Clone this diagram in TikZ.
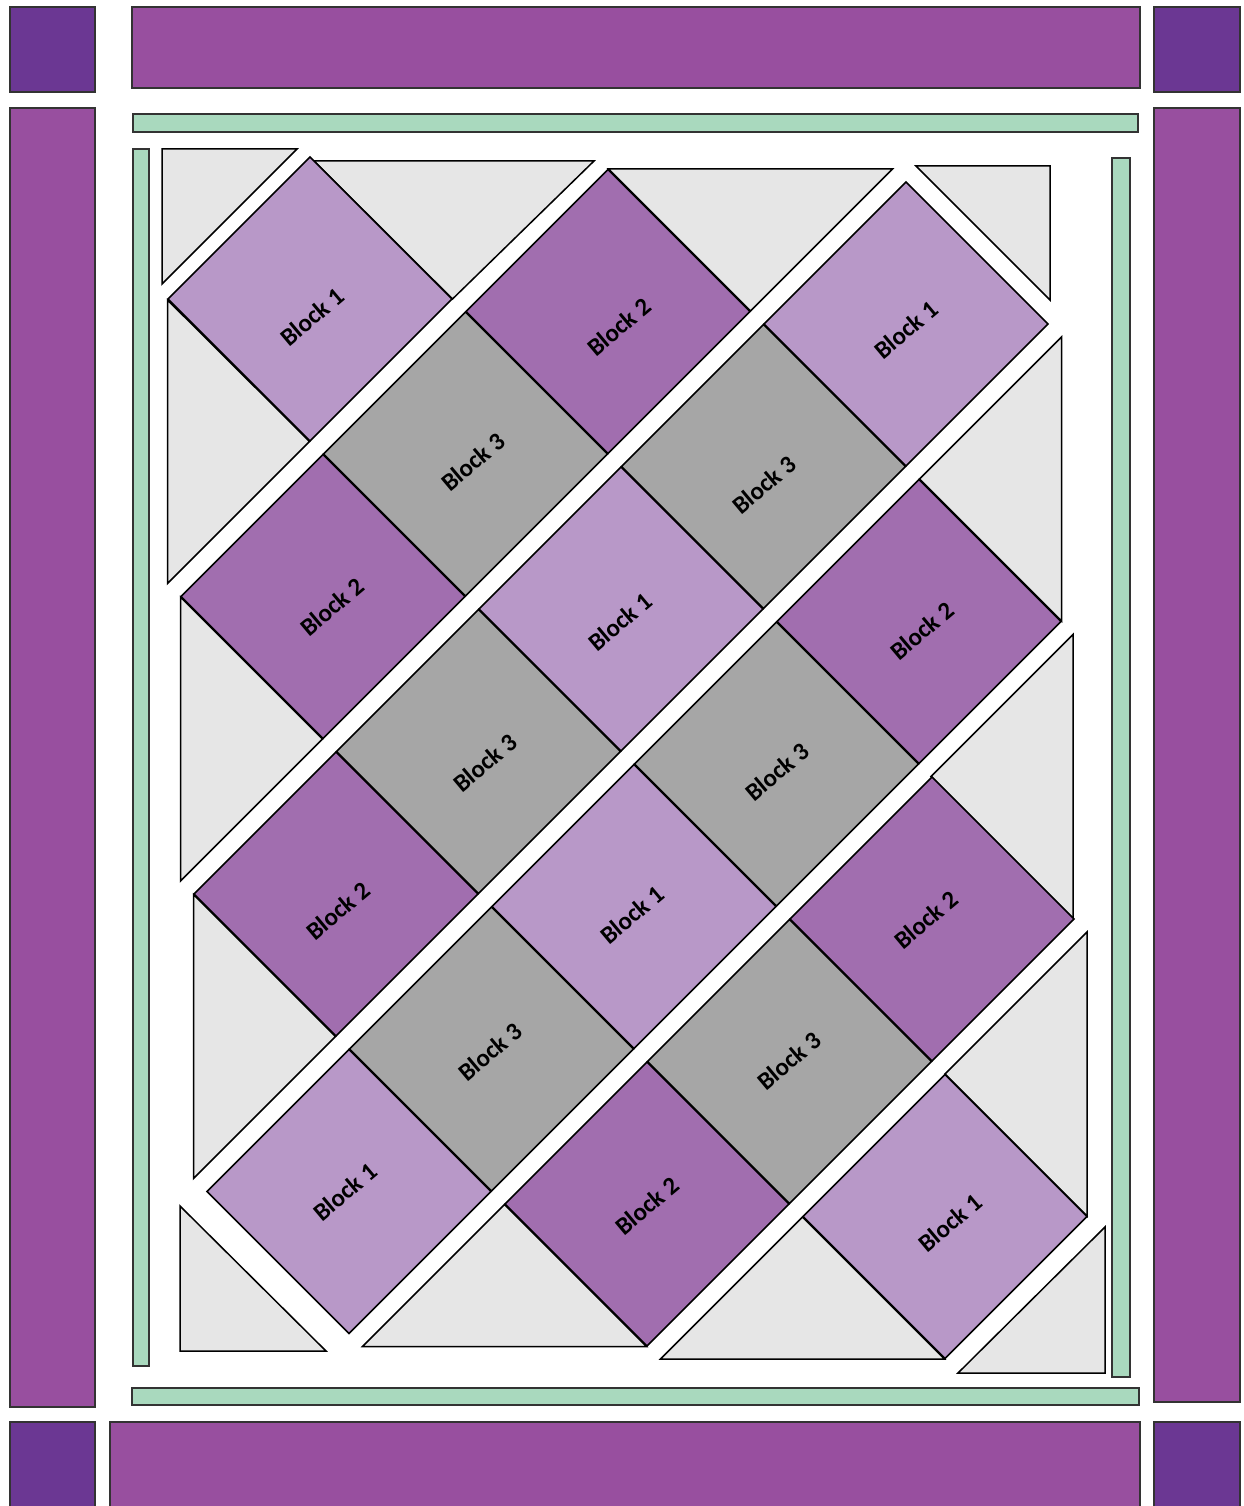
\documentclass[tikz,border=0pt]{standalone}
\usepackage{fontspec}
\setmainfont{Carlito}
\definecolor{borderpurple}{HTML}{984F9F}
\definecolor{cornerpurple}{HTML}{6B3793}
\definecolor{blockone}{HTML}{B898C8}
\definecolor{blocktwo}{HTML}{A16EAF}
\definecolor{blockthree}{HTML}{A6A6A6}
\definecolor{setting}{HTML}{E6E6E6}
\definecolor{sashgreen}{HTML}{A9D9BE}
% #1 name, #2 #3 block centre, #4 colour, #5 number, #6 #7 label centre
\newcommand\qblk[7]{%
  \filldraw[blockline,fill=#4] (#2,#3) ++(0,-142) -- ++(142,142) -- ++(-142,142) -- ++(-142,-142) -- cycle;
  \node[lbl] (#1) at (#6,#7) {Block #5};}
\begin{document}
\begin{tikzpicture}[x=1pt,y=-1pt,
  strip/.style={draw=black!80,line width=1.1pt},
  border/.style={strip,fill=borderpurple},
  cornersq/.style={strip,fill=cornerpurple},
  sash/.style={strip,fill=sashgreen},
  blockline/.style={draw=black,line width=1.5pt,line join=miter},
  tri/.style={draw=black,line width=1.5pt,fill=setting,line join=miter},
  lbl/.style={rotate=40,font=\fontsize{25}{25}\selectfont\bfseries,text=black,inner sep=0pt}]
\clip (0,0) rectangle (1243,1506);
\fill[white] (0,0) rectangle (1243,1506);
% outer border
\filldraw[cornersq] (10,7) rectangle (95,92);
\filldraw[border] (132,7) rectangle (1140,88);
\filldraw[cornersq] (1154,7) rectangle (1240,92);
\filldraw[border] (10,108) rectangle (95,1407);
\filldraw[border] (1154,108) rectangle (1240,1402);
\filldraw[cornersq] (10,1422) rectangle (95,1520);
\filldraw[border] (110,1422) rectangle (1140,1520);
\filldraw[cornersq] (1154,1422) rectangle (1240,1520);
% sashing
\filldraw[sash] (133,114) rectangle (1138,132);
\filldraw[sash] (133,149) rectangle (149,1366);
\filldraw[sash] (1112,158) rectangle (1130,1377);
\filldraw[sash] (132,1388) rectangle (1139,1405);
% setting and corner triangles
\filldraw[tri] (162,149) -- (297,149) -- (162,284) -- cycle;
\filldraw[tri] (167.5,300) -- (309.5,441.5) -- (167.5,583.5) -- cycle;
\filldraw[tri] (314,161) -- (594,161) -- (452.5,299) -- cycle;
\filldraw[tri] (180.5,597) -- (322.5,739) -- (180.5,881) -- cycle;
\filldraw[tri] (608.5,169) -- (892.5,169) -- (750.5,311) -- cycle;
\filldraw[tri] (193.5,894.5) -- (335.5,1036.5) -- (193.5,1178.5) -- cycle;
\filldraw[tri] (916,166) -- (1050,166) -- (1050,300) -- cycle;
\filldraw[tri] (180,1206) -- (326,1351) -- (180,1351) -- cycle;
\filldraw[tri] (1061.5,337) -- (1061.5,621) -- (919.5,479) -- cycle;
\filldraw[tri] (1073,634.5) -- (1073,918.5) -- (931,776.5) -- cycle;
\filldraw[tri] (1087,932) -- (1087,1216) -- (945,1074) -- cycle;
\filldraw[tri] (362.5,1346.5) -- (504.5,1204.5) -- (646.5,1346.5) -- cycle;
\filldraw[tri] (660.5,1359) -- (802.5,1217) -- (944.5,1359) -- cycle;
\filldraw[tri] (958,1373) -- (1105,1373) -- (1105,1227) -- cycle;
% blocks
\qblk{ba}{310}{299}{blockone}{1}{312}{317}
\qblk{bb}{323}{596.5}{blocktwo}{2}{332}{607}
\qblk{bc}{465.5}{454}{blockthree}{3}{473}{462}
\qblk{bd}{608}{311.5}{blocktwo}{2}{619}{327}
\qblk{be}{336}{894}{blocktwo}{2}{338}{911}
\qblk{bf}{478.5}{751.5}{blockthree}{3}{485}{763}
\qblk{bg}{621}{609}{blockone}{1}{620}{622}
\qblk{bh}{763.5}{466.5}{blockthree}{3}{764}{485}
\qblk{bi}{906}{324}{blockone}{1}{906}{330}
\qblk{bj}{349}{1191.5}{blockone}{1}{345}{1192}
\qblk{bk}{491.5}{1049}{blockthree}{3}{490}{1052}
\qblk{bl}{634}{906.5}{blockone}{1}{632}{915}
\qblk{bm}{776.5}{764}{blockthree}{3}{777}{772}
\qblk{bn}{919}{621.5}{blocktwo}{2}{922}{631}
\qblk{bo}{647}{1204}{blocktwo}{2}{647}{1206}
\qblk{bp}{789.5}{1061.5}{blockthree}{3}{789}{1061}
\qblk{bq}{932}{919}{blocktwo}{2}{926}{920}
\qblk{br}{945}{1216.5}{blockone}{1}{950}{1223}
\end{tikzpicture}
\end{document}
